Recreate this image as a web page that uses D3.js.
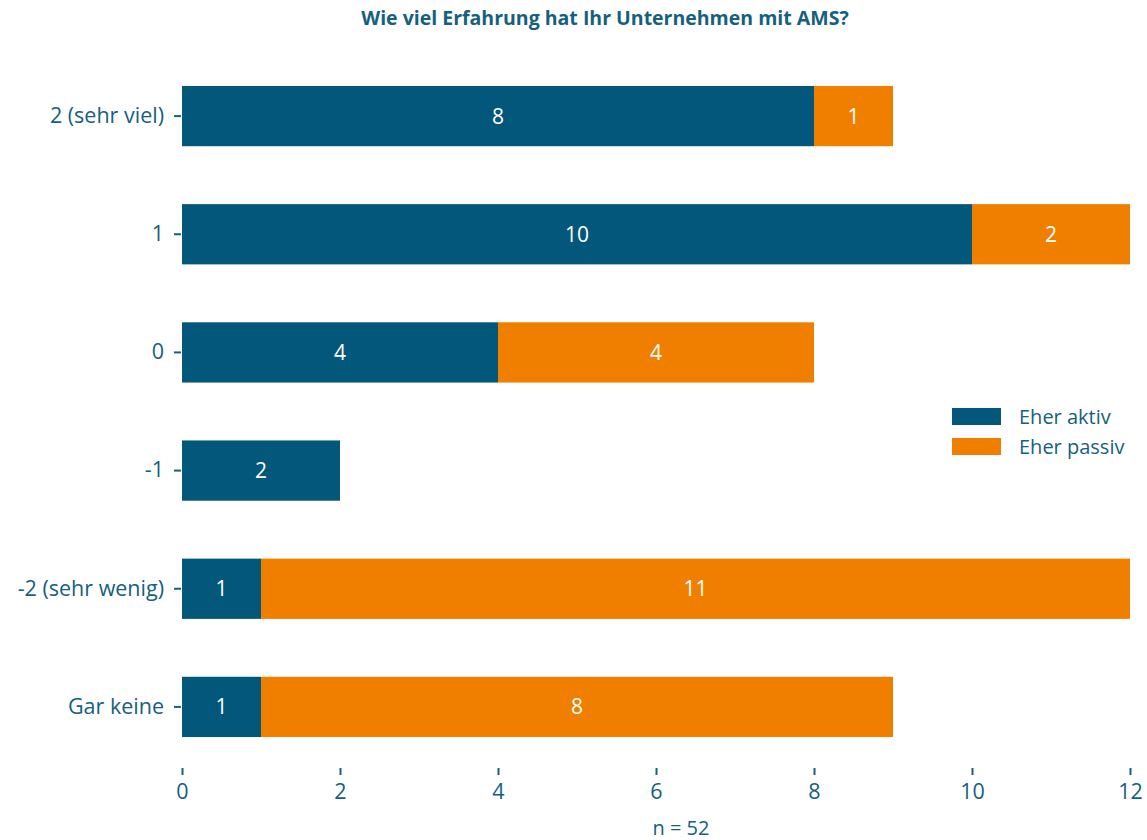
<!DOCTYPE html>
<html>
<head>
<meta charset="utf-8">
<script src="https://cdn.jsdelivr.net/npm/d3@7"></script>
<style>
  body { margin: 0; background: #fff; }
  svg text { font-family: "Open Sans", "Noto Sans", sans-serif; }
</style>
</head>
<body>
<div id="chart"></div>
<script>
const categories = ['2 (sehr viel)', '1', '0', '-1', '-2 (sehr wenig)', 'Gar keine'];
const aktiv = [8, 10, 4, 2, 1, 1];
const passiv = [1, 2, 4, 0, 11, 8];
const seriesNames = ['Eher aktiv', 'Eher passiv'];
const xTicks = [0, 2, 4, 6, 8, 10, 12];

const w = 1147, h = 840;
const textColor = '#15607f';
const colors = ['#03577a', '#f07f00'];

const svg = d3.select('#chart').append('svg')
  .attr('width', w).attr('height', h);

const xScale = d3.scaleLinear().domain([0, 12]).range([182, 1130]);
const yScale = d3.scaleBand().domain(categories).range([57, 766])
  .paddingInner(0.49).paddingOuter(0.245);

// title
svg.append('text')
  .attr('x', 605).attr('y', 25)
  .attr('text-anchor', 'middle')
  .attr('font-size', 19.5).attr('font-weight', 'bold')
  .attr('fill', textColor)
  .text('Wie viel Erfahrung hat Ihr Unternehmen mit AMS?');

const rows = categories.map((c, i) => ({cat: c, a: aktiv[i], p: passiv[i]}));

// stacked bars
const segs = [];
rows.forEach(r => {
  segs.push({cat: r.cat, x0: 0, x1: r.a, v: r.a, s: 0});
  segs.push({cat: r.cat, x0: r.a, x1: r.a + r.p, v: r.p, s: 1});
});
const shown = segs.filter(d => d.v > 0);

svg.selectAll('rect.bar')
  .data(shown).enter().append('rect')
  .attr('class', 'bar')
  .attr('x', d => xScale(d.x0))
  .attr('y', d => yScale(d.cat))
  .attr('width', d => xScale(d.x1) - xScale(d.x0))
  .attr('height', yScale.bandwidth())
  .attr('fill', d => colors[d.s]);

svg.selectAll('text.val')
  .data(shown).enter().append('text')
  .attr('class', 'val')
  .attr('x', d => (xScale(d.x0) + xScale(d.x1)) / 2)
  .attr('y', d => yScale(d.cat) + yScale.bandwidth() / 2)
  .attr('dy', '0.36em')
  .attr('text-anchor', 'middle')
  .attr('font-size', 21)
  .attr('fill', '#fff')
  .text(d => d.v);

// axes
const xAxis = d3.axisBottom(xScale).tickValues(xTicks).tickSize(7).tickPadding(9);
const gx = svg.append('g').attr('transform', 'translate(0,768)').call(xAxis);
gx.select('.domain').remove();
gx.selectAll('line').attr('stroke', textColor).attr('stroke-width', 2);
gx.selectAll('text').attr('fill', textColor).attr('font-size', 21.5)
  .attr('font-family', '"Open Sans", "Noto Sans", sans-serif');

const yAxis = d3.axisLeft(yScale).tickSize(7).tickPadding(10);
const gy = svg.append('g').attr('transform', 'translate(181,0)').call(yAxis);
gy.select('.domain').remove();
gy.selectAll('line').attr('stroke', textColor).attr('stroke-width', 2);
gy.selectAll('text').attr('fill', textColor).attr('font-size', 21.5)
  .attr('font-family', '"Open Sans", "Noto Sans", sans-serif');

// n label
svg.append('text')
  .attr('x', 681).attr('y', 835)
  .attr('text-anchor', 'middle')
  .attr('font-size', 20)
  .attr('fill', textColor)
  .text('n = 52');

// legend
const legend = svg.append('g').attr('transform', 'translate(952,408)');
seriesNames.forEach((name, i) => {
  legend.append('rect')
    .attr('x', 0).attr('y', i * 30)
    .attr('width', 49).attr('height', 17)
    .attr('fill', colors[i]);
  legend.append('text')
    .attr('x', 67).attr('y', i * 30 + 8.5)
    .attr('dy', '0.36em')
    .attr('font-size', 20)
    .attr('fill', textColor)
    .text(name);
});
</script>
</body>
</html>
